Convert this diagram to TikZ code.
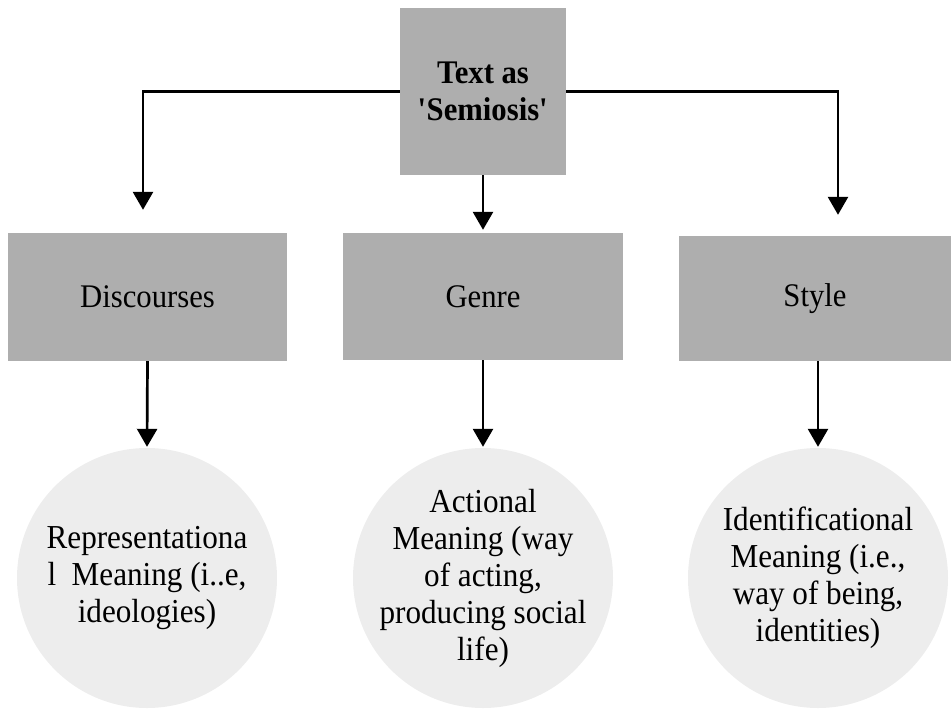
\documentclass[tikz,border=0pt]{standalone}
\usepackage{fontspec}
\setmainfont{Liberation Serif}[FakeStretch=0.93]
\usetikzlibrary{arrows.meta}

\definecolor{boxgray}{HTML}{AEAEAE}
\definecolor{circgray}{HTML}{EDEDED}

\begin{document}
\begin{tikzpicture}[x=1pt, y=-1pt,
    boxnode/.style={fill=boxgray, inner sep=0pt, align=center,
        font=\fontsize{33}{37}\selectfont},
    meaning/.style={circle, fill=circgray, inner sep=0pt, minimum size=260pt,
        label={[align=center, font=\fontsize{33.5}{37}\selectfont]center:#1}},
    link/.style={line width=2.7pt, -{Triangle[width=20pt,length=18pt]}}]
    \useasboundingbox (0,0) rectangle (951,710);

    % Top box
    \node[boxnode, minimum width=166pt, minimum height=167pt,
        font=\fontsize{33}{37}\selectfont\bfseries] (sem) at (483,91.5)
        {Text as\\\textquotesingle Semiosis\textquotesingle};

    % Middle row
    \node[boxnode, minimum width=279pt, minimum height=128pt] (disc) at (147.5,297) {Discourses};
    \node[boxnode, minimum width=280pt, minimum height=127pt] (gen) at (483,296.5) {Genre};
    \node[boxnode, minimum width=272pt, minimum height=125pt] (sty) at (815,298.5) {Style};

    % Bottom row
    \node[meaning={Representationa\\l\ \ Meaning (i..e,\\ideologies)}] (rep) at (147,578) {};
    \node[meaning={Actional\\Meaning (way\\of acting,\\producing social\\life)}] (act) at (483,578) {};
    \node[meaning={Identificational\\Meaning (i.e.,\\way of being,\\identities)}] (ide) at (818,578) {};

    % Connectors
    \draw[link, shorten >=23pt] (sem.west) -| ([xshift=-4.5pt]disc.north);
    \draw[link, shorten >=21pt] (sem.east) -| ([xshift=23pt]sty.north);
    \draw[link, shorten >=3pt] (sem.south) -- (gen.north);
    \draw[link, shorten >=1pt] (disc.south) -- (rep.north);
    \draw[link, shorten >=1pt] (gen.south) -- (act.north);
    \draw[link, shorten >=1pt] ([xshift=3pt]sty.south) -- (ide.north);
\end{tikzpicture}
\end{document}
